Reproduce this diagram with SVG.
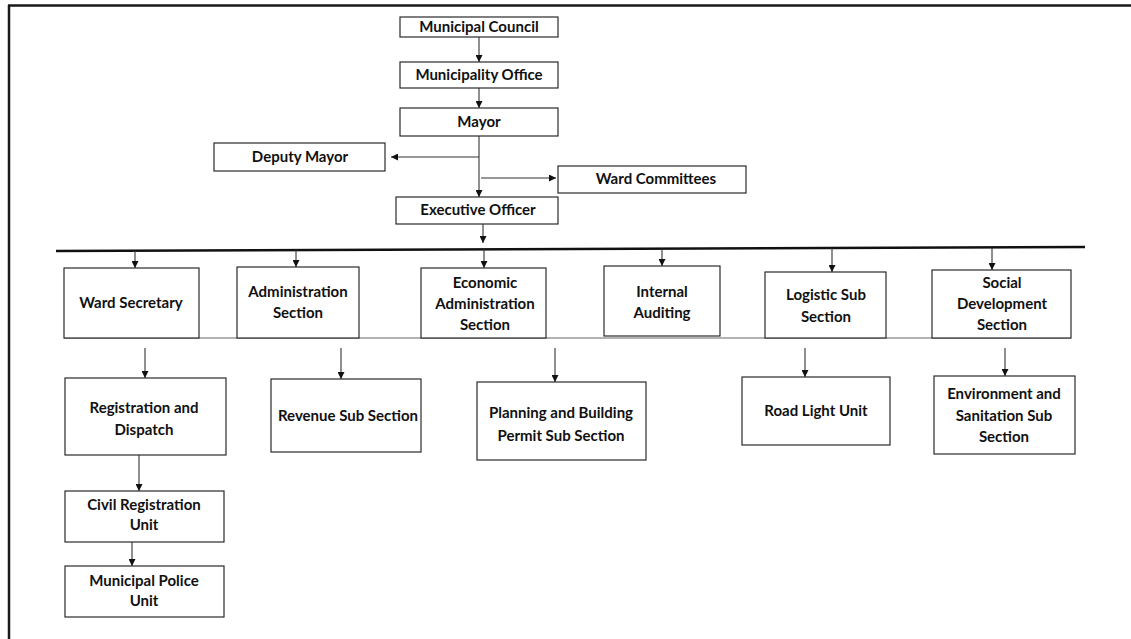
<svg xmlns="http://www.w3.org/2000/svg" width="1131" height="639" viewBox="0 0 1131 639">
<style>
.box{fill:#fff;stroke:#2a2a2a;stroke-width:1.2}
.t{font-family:Lato,"Liberation Sans",sans-serif;font-weight:bold;font-size:15px;fill:#111;text-anchor:middle}
.ca{stroke:#333;stroke-width:1.1;fill:none;marker-end:url(#ah)}
</style>
<defs>
<marker id="ah" viewBox="0 0 10 10" refX="10" refY="5" markerWidth="7" markerHeight="7" markerUnits="userSpaceOnUse" orient="auto">
<path d="M0,0 L10,5 L0,10 z" fill="#111"/>
</marker>
</defs>
<rect width="1131" height="639" fill="#fff"/>
<g id="frame">
<line x1="8" y1="5.5" x2="1131" y2="5.5" stroke="#1a1a1a" stroke-width="2.5"/>
<line x1="9" y1="5" x2="9" y2="639" stroke="#1a1a1a" stroke-width="2.5"/>
</g>
<g id="connectors">
<line class="ca" x1="479" y1="37" x2="479" y2="62"/>
<line class="ca" x1="479" y1="88" x2="479" y2="108"/>
<line class="ca" x1="479" y1="136" x2="479" y2="197"/>
<line class="ca" x1="479" y1="157" x2="391" y2="157"/>
<line class="ca" x1="481" y1="178" x2="556" y2="178"/>
<line class="ca" x1="483" y1="224" x2="483" y2="243"/>
<line x1="56" y1="251" x2="1085" y2="247" stroke="#111" stroke-width="2.5"/>
<line class="ca" x1="135" y1="251" x2="135" y2="268"/>
<line class="ca" x1="296" y1="250" x2="296" y2="267"/>
<line class="ca" x1="484" y1="249" x2="484" y2="268"/>
<line class="ca" x1="662" y1="249" x2="662" y2="266"/>
<line class="ca" x1="832" y1="248" x2="832" y2="272"/>
<line class="ca" x1="992" y1="248" x2="992" y2="270"/>
<line x1="64" y1="338" x2="1071" y2="338" stroke="#666" stroke-width="1.2"/>
<line class="ca" x1="145" y1="348" x2="145" y2="378"/>
<line class="ca" x1="341" y1="348" x2="341" y2="379"/>
<line class="ca" x1="555" y1="348" x2="555" y2="382"/>
<line class="ca" x1="805" y1="348" x2="805" y2="377"/>
<line class="ca" x1="1005" y1="348" x2="1005" y2="376"/>
<line class="ca" x1="139" y1="455" x2="139" y2="491"/>
<line class="ca" x1="132" y1="538" x2="132" y2="566"/>
</g>
<g id="municipal-council"><rect class="box" x="400" y="17" width="158" height="20"/><text class="t" x="479" y="32">Municipal Council</text></g>
<g id="municipality-office"><rect class="box" x="400" y="62" width="158" height="26"/><text class="t" x="479" y="80">Municipality Office</text></g>
<g id="mayor"><rect class="box" x="400" y="108" width="158" height="28"/><text class="t" x="479" y="127">Mayor</text></g>
<g id="deputy-mayor"><rect class="box" x="214" y="143" width="171" height="28"/><text class="t" x="300" y="162">Deputy Mayor</text></g>
<g id="ward-committees"><rect class="box" x="558" y="166" width="188" height="27"/><text class="t" x="656" y="184">Ward Committees</text></g>
<g id="executive-officer"><rect class="box" x="396" y="197" width="162" height="27"/><text class="t" x="478" y="215">Executive Officer</text></g>
<g id="ward-secretary"><rect class="box" x="64" y="268" width="135" height="70"/><text class="t" x="131" y="308">Ward Secretary</text></g>
<g id="administration-section"><rect class="box" x="237" y="267" width="122" height="71"/><text class="t" x="298" y="297">Administration</text><text class="t" x="298" y="318">Section</text></g>
<g id="economic-administration-section"><rect class="box" x="421" y="268" width="125" height="70"/><text class="t" x="485" y="288">Economic</text><text class="t" x="485" y="309">Administration</text><text class="t" x="485" y="330">Section</text></g>
<g id="internal-auditing"><rect class="box" x="604" y="266" width="116" height="70"/><text class="t" x="662" y="297">Internal</text><text class="t" x="662" y="318">Auditing</text></g>
<g id="logistic-sub-section"><rect class="box" x="765" y="272" width="121" height="66"/><text class="t" x="826" y="300">Logistic Sub</text><text class="t" x="826" y="322">Section</text></g>
<g id="social-development-section"><rect class="box" x="932" y="270" width="139" height="68"/><text class="t" x="1002" y="288">Social</text><text class="t" x="1002" y="309">Development</text><text class="t" x="1002" y="330">Section</text></g>
<g id="registration-and-dispatch"><rect class="box" x="65" y="378" width="161" height="77"/><text class="t" x="144" y="413">Registration and</text><text class="t" x="144" y="435">Dispatch</text></g>
<g id="revenue-sub-section"><rect class="box" x="271" y="379" width="150" height="73"/><text class="t" x="348" y="421">Revenue Sub Section</text></g>
<g id="planning-and-building-permit"><rect class="box" x="477" y="382" width="169" height="78"/><text class="t" x="561" y="418">Planning and Building</text><text class="t" x="561" y="441">Permit Sub Section</text></g>
<g id="road-light-unit"><rect class="box" x="742" y="377" width="148" height="68"/><text class="t" x="816" y="416">Road Light Unit</text></g>
<g id="environment-and-sanitation"><rect class="box" x="934" y="376" width="141" height="78"/><text class="t" x="1004" y="399">Environment and</text><text class="t" x="1004" y="421">Sanitation Sub</text><text class="t" x="1004" y="442">Section</text></g>
<g id="civil-registration-unit"><rect class="box" x="65" y="491" width="159" height="51"/><text class="t" x="144" y="510">Civil Registration</text><text class="t" x="144" y="530">Unit</text></g>
<g id="municipal-police-unit"><rect class="box" x="65" y="566" width="159" height="51"/><text class="t" x="144" y="586">Municipal Police</text><text class="t" x="144" y="606">Unit</text></g>
</svg>
